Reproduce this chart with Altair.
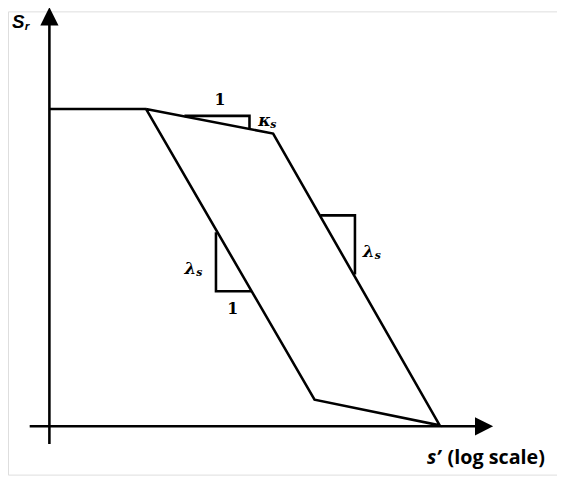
import altair as alt
import pandas as pd

# Diagram coordinates: origin at the axes intersection (x ~ log s', y ~ Sr)
plateau_x = [0, 98]
plateau_y = [322, 322]
loop_x = [98, 269, 396, 227, 98]
loop_y = [322, 27, 1, 297, 322]
kappa_tri_x = [137, 203, 203]
kappa_tri_y = [315, 315, 302]
lam_left_x = [169, 169, 205]
lam_left_y = [197, 137, 137]
lam_right_x = [275, 310, 310]
lam_right_y = [214, 214, 154]
xaxis_x = [-20, 434]
xaxis_y = [0, 0]
yaxis_x = [0, 0]
yaxis_y = [-18, 408]

arrow_x = [441, 0]
arrow_y = [0, 416]
arrow_shape = ["M-1,-1L1,0L-1,1Z", "M-1,1L0,-1L1,1Z"]

rows = []
for name, xs, ys in [
    ("plateau", plateau_x, plateau_y),
    ("loop", loop_x, loop_y),
    ("kappa", kappa_tri_x, kappa_tri_y),
    ("lamL", lam_left_x, lam_left_y),
    ("lamR", lam_right_x, lam_right_y),
    ("xaxis", xaxis_x, xaxis_y),
    ("yaxis", yaxis_x, yaxis_y),
]:
    for i, (x, y) in enumerate(zip(xs, ys)):
        rows.append({"seg": name, "order": i, "x": x, "y": y})
lines_df = pd.DataFrame(rows)

X = alt.Scale(domain=[-42, 515], nice=False, zero=False)
Y = alt.Scale(domain=[-49, 421], nice=False, zero=False)

lines = alt.Chart(lines_df).mark_line(color="black", strokeWidth=2.6, strokeCap="butt", strokeJoin="miter").encode(
    x=alt.X("x:Q", scale=X, axis=None),
    y=alt.Y("y:Q", scale=Y, axis=None),
    detail="seg:N",
    order="order:Q",
)

arrows = []
for ax, ay, shp in zip(arrow_x, arrow_y, arrow_shape):
    arrows.append(
        alt.Chart(pd.DataFrame({"x": [ax], "y": [ay]})).mark_point(
            shape=shp, size=340, filled=True, color="black", opacity=1, strokeWidth=0
        ).encode(x=alt.X("x:Q", scale=X, axis=None), y=alt.Y("y:Q", scale=Y, axis=None))
    )

def label(txt, x, y, size, font, style="normal", weight="normal", align="center", baseline="middle"):
    return alt.Chart(pd.DataFrame({"x": [x], "y": [y], "t": [txt]})).mark_text(
        fontSize=size, font=font, fontStyle=style, fontWeight=weight,
        align=align, baseline=baseline, color="black"
    ).encode(x=alt.X("x:Q", scale=X, axis=None), y=alt.Y("y:Q", scale=Y, axis=None), text="t:N")

serif = "DejaVu Serif"
sans = "Open Sans"
texts = [
    label("S", -38, 404, 19, "Liberation Sans", "italic", "bold", "left", "alphabetic"),
    label("r", -25, 402, 12, "Liberation Sans", "italic", "bold", "left", "alphabetic"),
    label("s\u2019", 383, -38, 20, sans, "italic", "bold", "left", "alphabetic"),
    label("(log scale)", 404, -38, 20, sans, "normal", "bold", "left", "alphabetic"),
    label("1", 173, 331, 16, serif, "normal", "bold"),
    label("1", 186, 119, 16, serif, "normal", "bold"),
    label("\u03ba", 212, 310, 17, serif, "italic", "bold", "left"),
    label("s", 224, 306, 11, serif, "italic", "bold", "left"),
    label("\u03bb", 137, 160, 17, serif, "italic", "bold", "left"),
    label("s", 149, 156, 11, serif, "italic", "bold", "left"),
    label("\u03bb", 318, 177, 17, serif, "italic", "bold", "left"),
    label("s", 330, 173, 11, serif, "italic", "bold", "left"),
]

chart = alt.layer(lines, *arrows, *texts).properties(
    width=557, height=470, padding=0, autosize=alt.AutoSizeParams(type="none")
).configure_view(stroke=None).configure(background="white")

chart.save("out.html", embed_options={"renderer": "svg", "actions": False})
